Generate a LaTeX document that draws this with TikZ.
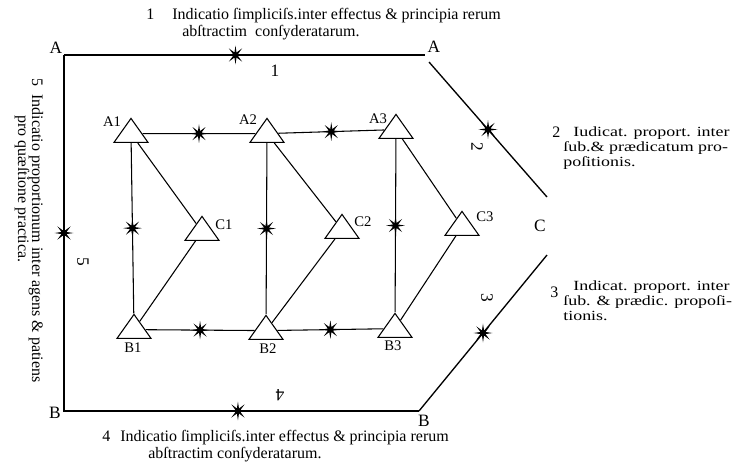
\documentclass[tikz,border=0pt]{standalone}
\usepackage{fontspec}
\setmainfont{Liberation Serif}
\usetikzlibrary{shapes.geometric}
\tikzset{every node/.style={font=\fontsize{12}{13}\selectfont},line cap=round,line join=round}
\tikzset{
  tri/.style={draw,fill=white,isosceles triangle,isosceles triangle stretches,rotate=90,
    minimum width=25.5pt,minimum height=18pt,inner sep=0pt,line width=0.8pt,anchor=apex},
  starmark/.style={star,star points=8,star point ratio=3.4,minimum size=14pt,inner sep=0pt,fill=black,draw=none},
  frame/.style={line width=1pt},
  edge/.style={line width=0.8pt},
  lbl/.style={font=\fontsize{13}{14}\selectfont},
  tlbl/.style={font=\fontsize{11}{12}\selectfont},
  txt/.style={anchor=base west,inner sep=0pt},
  rtxt/.style={txt,font=\fontsize{10.5}{11}\selectfont,xscale=1.28}
}

\begin{document}
\begin{tikzpicture}[x=0.75pt,y=-0.75pt]
  \path[use as bounding box] (0,0) rectangle (736,465);
  % outer frame
  \coordinate (tl) at (64,55);
  \coordinate (tr) at (425,55);
  \coordinate (ru) at (429,62);
  \coordinate (cu) at (547,197);
  \coordinate (cl) at (547,255);
  \coordinate (br) at (419,411);
  \coordinate (bl) at (64,411);
  \draw[frame] (tl) -- node[starmark,pos=0.475]{} (tr);
  \draw[frame] (ru) -- node[starmark]{} (cu);
  \draw[frame] (cl) -- node[starmark]{} (br);
  \draw[frame] (br) -- node[starmark,pos=0.51]{} (bl) -- node[starmark]{} (tl);
  \node[lbl] (Atl) at (56,48) {A};
  \node[lbl] (Atr) at (434,47) {A};
  \node[lbl] (Bbl) at (55,413) {B};
  \node[lbl] (Bbr) at (424,421) {B};
  \node[lbl] (Cr) at (540,226) {C};
  \node[lbl] (n1) at (275,71) {1};
  \node[lbl,rotate=-90] (n2) at (477,147) {2};
  \node[lbl,rotate=-90] (n3) at (487,298) {3};
  \node[lbl,rotate=180] (n4) at (280,395) {4};
  \node[lbl,rotate=-90] (n5) at (83,262) {5};
  % triangles
  \node[tri] (A1) at (131,117) {};
  \node[tri] (A2) at (267,117) {};
  \node[tri] (A3) at (396,113) {};
  \node[tri] (C1) at (202,215) {};
  \node[tri] (C2) at (342,213) {};
  \node[tri] (C3) at (462,210) {};
  \node[tri] (B1) at (134,313) {};
  \node[tri] (B2) at (266,314) {};
  \node[tri] (B3) at (395,312) {};
  \draw[edge] (A1) -- node[starmark]{} (A2) -- node[starmark]{} (A3);
  \draw[edge] (B1) -- node[starmark]{} (B2) -- node[starmark]{} (B3);
  \foreach \i in {1,2,3}{
    \draw[edge] (A\i) -- node[starmark]{} (B\i);
    \draw[edge] (A\i) -- (C\i) -- (B\i);
  }
  \node[tlbl] (lA1) at (112,122) {A1};
  \node[tlbl] (lA2) at (248,120) {A2};
  \node[tlbl] (lA3) at (378,119) {A3};
  \node[tlbl] (lC1) at (224,225) {C1};
  \node[tlbl] (lC2) at (363,222) {C2};
  \node[tlbl] (lC3) at (485,217) {C3};
  \node[tlbl] (lB1) at (133,348) {B1};
  \node[tlbl] (lB2) at (268,349) {B2};
  \node[tlbl] (lB3) at (393,346) {B3};
  % texts
  \node[txt] (t1n) at (146,19) {1};
  \node[txt] (t1a) at (172,19) {Indicatio ſimpliciſs.inter effectus \& principia rerum};
  \node[txt] (t1b) at (182,36) {abſtractim\ \ conſyderatarum.};
  \node[txt] (t2n) at (552,137) {2};
  \node[rtxt] (t2a) at (573,136) {Iudicat. proport. inter};
  \node[rtxt] (t2b) at (563,151) {ſub.\& prædicatum pro-};
  \node[rtxt] (t2c) at (563,166) {poſitionis.};
  \node[txt] (t3n) at (550,297) {3};
  \node[rtxt] (t3a) at (573,290) {Indicat. proport. inter};
  \node[rtxt] (t3b) at (563,305) {ſub. \& prædic. propoſi-};
  \node[rtxt] (t3c) at (563,320) {tionis.};
  \node[txt] (t4n) at (102,441) {4};
  \node[txt] (t4a) at (120,441) {Indicatio ſimpliciſs.inter effectus \& principia rerum};
  \node[txt] (t4b) at (148,458) {abſtractim conſyderatarum.};
  \node[txt,rotate=-90] (t5a) at (32,78) {5\ \ Indicatio proportionum inter agens \& patiens};
  \node[txt,rotate=-90] (t5b) at (18,115) {pro quæſtione practica.};
\end{tikzpicture}
\end{document}
